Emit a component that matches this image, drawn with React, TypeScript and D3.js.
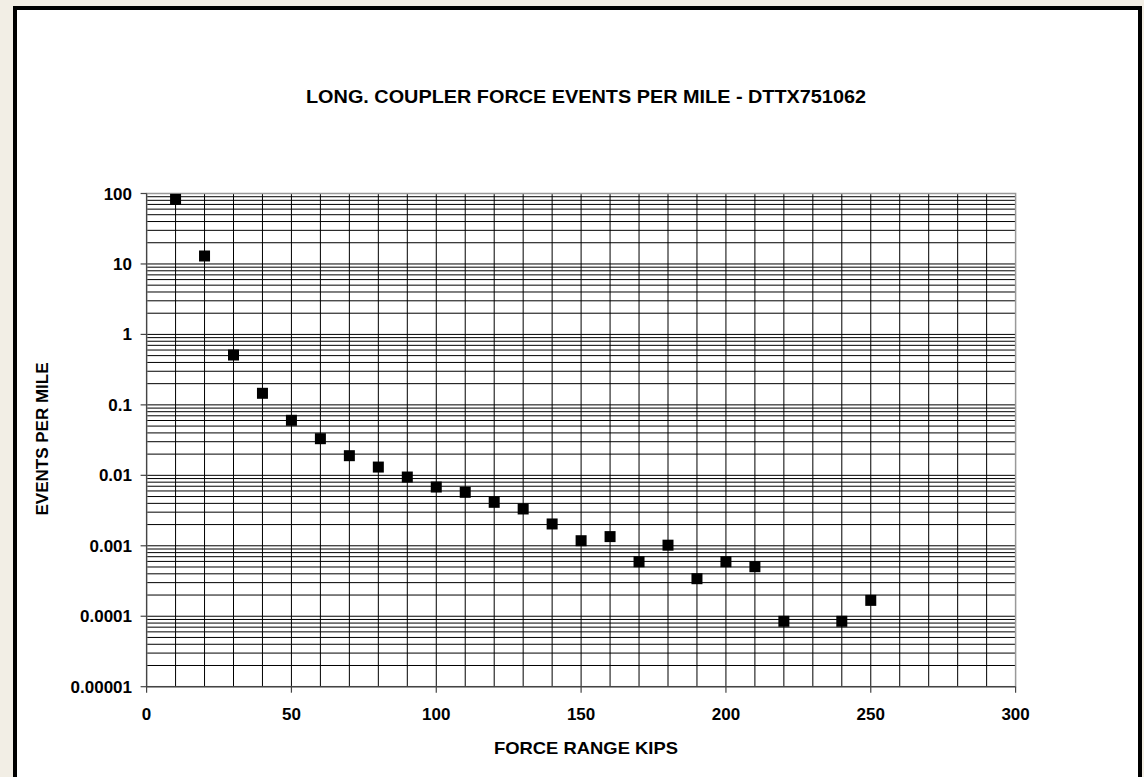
import React from 'react';
import * as d3 from 'd3';

// force range (kips) and measured events per mile
const forceKips = [10, 20, 30, 40, 50, 60, 70, 80, 90, 100, 110, 120, 130, 140, 150, 160, 170, 180, 190, 200, 210, 220, 240, 250];
const eventsPerMile = [
  82.6, 12.97, 0.51, 0.146, 0.0604, 0.0331, 0.019, 0.0131, 0.00946, 0.00682, 0.00574, 0.00414,
  0.00333, 0.00204, 0.00118, 0.00135, 0.000594, 0.00102, 0.000341, 0.000594, 0.000505, 0.0000848,
  0.0000848, 0.000168,
];
const xTicks = [0, 50, 100, 150, 200, 250, 300];
const yTicks = [100, 10, 1, 0.1, 0.01, 0.001, 0.0001, 0.00001];
const yTickLabels = ['100', '10', '1', '0.1', '0.01', '0.001', '0.0001', '0.00001'];

const W = 1144;
const H = 777;
const left = 146.6;
const right = 1015.6;
const top = 193.5;
const bottom = 686.7;
const font = '"Liberation Sans", Arial, sans-serif';

const App = () => {
  const x = d3.scaleLinear().domain([0, 300]).range([left, right]);
  const y = d3.scaleLog().domain([0.00001, 100]).range([bottom, top]);

  const vGrid = d3.range(10, 300, 10);
  const hGrid: number[] = [];
  for (let e = -5; e < 2; e++) {
    for (let m = 1; m <= 9; m++) hGrid.push(m * Math.pow(10, e));
  }
  hGrid.push(100);

  const sq = 11;

  return (
    <svg width={W} height={H} style={{ position: 'absolute', left: 0, top: 0 }} fontFamily={font}>
      <rect x={0} y={0} width={W} height={H} fill="#f2eee5" />
      <rect x={15} y={8} width={1125} height={790} fill="#fff" stroke="#000" strokeWidth={4} />

      <text x={586} y={103} textAnchor="middle" fontSize={18} fontWeight="bold" textLength={560} lengthAdjust="spacingAndGlyphs">
        LONG. COUPLER FORCE EVENTS PER MILE - DTTX751062
      </text>

      {/* grid */}
      <g stroke="#000" strokeWidth={1}>
        {hGrid.map((v, i) => (
          <line key={'h' + i} x1={left} x2={right} y1={y(v)} y2={y(v)} />
        ))}
        {vGrid.map((v) => (
          <line key={'v' + v} x1={x(v)} x2={x(v)} y1={top} y2={bottom} />
        ))}
      </g>
      <rect x={left} y={top} width={right - left} height={bottom - top} fill="none" stroke="#999" strokeWidth={1.5} />

      {/* axes */}
      <g stroke="#444" strokeWidth={1.2}>
        <line x1={left} x2={left} y1={top} y2={bottom} />
        <line x1={left} x2={right} y1={bottom} y2={bottom} />
        {yTicks.map((v) => (
          <line key={'yt' + v} x1={left - 6} x2={left} y1={y(v)} y2={y(v)} />
        ))}
        {xTicks.map((v) => (
          <line key={'xt' + v} x1={x(v)} x2={x(v)} y1={bottom} y2={bottom + 6} />
        ))}
      </g>

      <g fontSize={17} fontWeight="bold" fill="#000">
        {yTicks.map((v, i) => (
          <text key={'yl' + v} x={132} y={y(v) + 6} textAnchor="end">
            {yTickLabels[i]}
          </text>
        ))}
        {xTicks.map((v) => (
          <text key={'xl' + v} x={x(v)} y={720} textAnchor="middle">
            {v}
          </text>
        ))}
        <text x={586} y={754} textAnchor="middle" textLength={184} lengthAdjust="spacingAndGlyphs">
          FORCE RANGE KIPS
        </text>
        <text transform={`translate(48.3, 439) rotate(-90)`} textAnchor="middle">
          EVENTS PER MILE
        </text>
      </g>

      {/* data markers */}
      <g fill="#000">
        {forceKips.map((f, i) => (
          <rect key={'p' + f} x={x(f) - sq / 2} y={y(eventsPerMile[i]) - sq / 2} width={sq} height={sq} />
        ))}
      </g>
    </svg>
  );
};

export default App;
